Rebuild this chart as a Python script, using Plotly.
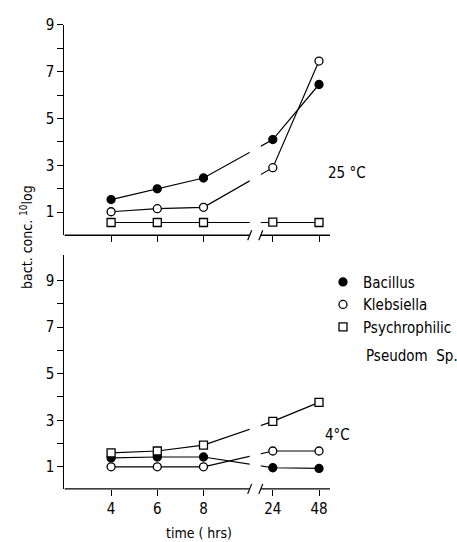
import plotly.graph_objects as go

# ---- data ----
time_hrs = [4, 6, 8, 24, 48]
time_labels = ["4", "6", "8", "24", "48"]
series_names = ["Bacillus", "Klebsiella", "Psychrophilic"]
y_major = [1, 3, 5, 7, 9]
y_minor = [2, 4, 6, 8]

bacillus_25 = [1.54, 2.0, 2.46, 4.1, 6.45]
klebsiella_25 = [1.02, 1.15, 1.21, 2.9, 7.45]
psychro_25 = [0.56, 0.56, 0.56, 0.58, 0.56]

bacillus_4 = [1.38, 1.42, 1.42, 0.96, 0.93]
klebsiella_4 = [1.0, 1.0, 1.0, 1.68, 1.68]
psychro_4 = [1.6, 1.68, 1.93, 2.95, 3.77]


def broken_scale(t):
    # broken time axis: 4-8 h at 2 h per unit, then 24-48 h at 24 h per unit
    return (t - 4) / 2 if t <= 8 else 3.5 + (t - 24) / 24


xpos = [broken_scale(t) for t in time_hrs]
BREAK_L, BREAK_R = 3.0, 3.24
XR = [-1.01, 4.74]

FONT = "DejaVu Sans Condensed, Liberation Sans Narrow, DejaVu Sans, sans-serif"
W, H = 457, 542

styles = {
    "Bacillus": dict(symbol="circle", color="black"),
    "Klebsiella": dict(symbol="circle", color="white"),
    "Psychrophilic": dict(symbol="square", color="white"),
}

fig = go.Figure()

panels = [
    ("x", "y", [bacillus_25, klebsiella_25, psychro_25]),
    ("x2", "y2", [bacillus_4, klebsiella_4, psychro_4]),
]
for xa, ya, vals in panels:
    for name, v in zip(series_names, vals):
        st = styles[name]
        fig.add_trace(go.Scatter(
            x=xpos, y=v, xaxis=xa, yaxis=ya, mode="lines+markers",
            name=name, showlegend=False, cliponaxis=False,
            line=dict(color="black", width=1.2),
            marker=dict(symbol=st["symbol"], size=8, color=st["color"],
                        line=dict(color="black", width=1.3)),
        ))

# legend-only entries (marker keys)
for name in series_names:
    st = styles[name]
    fig.add_trace(go.Scatter(
        x=[None], y=[None], mode="markers", name=name, legendgroup=name,
        marker=dict(symbol=st["symbol"], size=8, color=st["color"],
                    line=dict(color="black", width=1.3)),
    ))

xdom = [65 / W, 333 / W]
top_dom = [1 - 230 / H, 1 - 16 / H]
bot_dom = [1 - 488 / H, 1 - 250 / H]

common_x = dict(range=XR, showline=False, showgrid=False, zeroline=False,
                tickmode="array", tickvals=xpos, ticktext=time_labels,
                ticks="outside", ticklen=6, tickwidth=1.2, tickcolor="black",
                fixedrange=True)
common_y = dict(showline=True, linecolor="black", linewidth=1.4,
                showgrid=False, zeroline=False, tickmode="array",
                tickvals=y_major, ticks="outside",
                ticklen=6, tickwidth=1.2, tickcolor="black", fixedrange=True,
                minor=dict(tickmode="array", tickvals=y_minor, ticks="outside",
                           ticklen=6, tickwidth=1.2, tickcolor="black",
                           showgrid=False))

fig.update_layout(
    width=W, height=H,
    margin=dict(l=0, r=0, t=0, b=0),
    paper_bgcolor="white", plot_bgcolor="white",
    font=dict(family=FONT, size=15, color="black"),
    xaxis=dict(domain=xdom, anchor="y", showticklabels=False, **common_x),
    yaxis=dict(domain=top_dom, anchor="x", range=[0.02, 9], **common_y),
    xaxis2=dict(domain=xdom, anchor="y2", showticklabels=True, **common_x),
    yaxis2=dict(domain=bot_dom, anchor="x2", range=[0.05, 10.11], **common_y),
    showlegend=True,
    legend=dict(x=326 / W, y=1 - 261 / H, xanchor="left", yanchor="top",
                bgcolor="rgba(0,0,0,0)", borderwidth=0,
                font=dict(family=FONT, size=15), itemwidth=30,
                tracegroupgap=10, traceorder="normal"),
)

shapes = []
for xr, yr in (("x", "y domain"), ("x2", "y2 domain")):
    # gap in the connecting lines at the axis break
    shapes.append(dict(type="rect", xref=xr, yref=yr, x0=BREAK_L, x1=BREAK_R,
                       y0=0.035, y1=1.02, fillcolor="white",
                       line=dict(width=0), layer="above"))
    # broken x-axis line
    shapes.append(dict(type="line", xref=xr, yref=yr, x0=XR[0], x1=BREAK_L,
                       y0=0, y1=0, line=dict(color="black", width=1.4)))
    shapes.append(dict(type="line", xref=xr, yref=yr, x0=BREAK_R, x1=XR[1],
                       y0=0, y1=0, line=dict(color="black", width=1.4)))
    for xb in (BREAK_L, BREAK_R):
        shapes.append(dict(type="line", xref=xr, yref=yr,
                           xsizemode="pixel", ysizemode="pixel",
                           xanchor=xb, yanchor=0, x0=-2, x1=2, y0=-5, y1=5,
                           line=dict(color="black", width=1.2)))
fig.update_layout(shapes=shapes)

ann = [
    dict(text="25 °C", x=350 / W, y=1 - 167 / H),
    dict(text="4°C", x=340 / W, y=1 - 433 / H),
    dict(text="time ( hrs)", x=201 / W, y=1 - 533 / H, font=dict(size=14)),
    dict(text="Pseudom  Sp.", x=367 / W, y=1 - 353 / H, xanchor="left"),
    dict(text="bact. conc. <sup>10</sup>log", x=27 / W, y=1 - 232 / H,
         textangle=-90, font=dict(size=14)),
]
for a in ann:
    d = dict(xref="paper", yref="paper", showarrow=False,
             xanchor="center", yanchor="middle",
             font=dict(family=FONT, size=15, color="black"))
    d.update({k: v for k, v in a.items() if k != "font"})
    if "font" in a:
        d["font"].update(a["font"])
    fig.add_annotation(**d)

fig.write_html(
    "out.html",
    config={"displayModeBar": False},
    post_script="document.body.style.margin='0';document.body.style.overflow='hidden';",
)
